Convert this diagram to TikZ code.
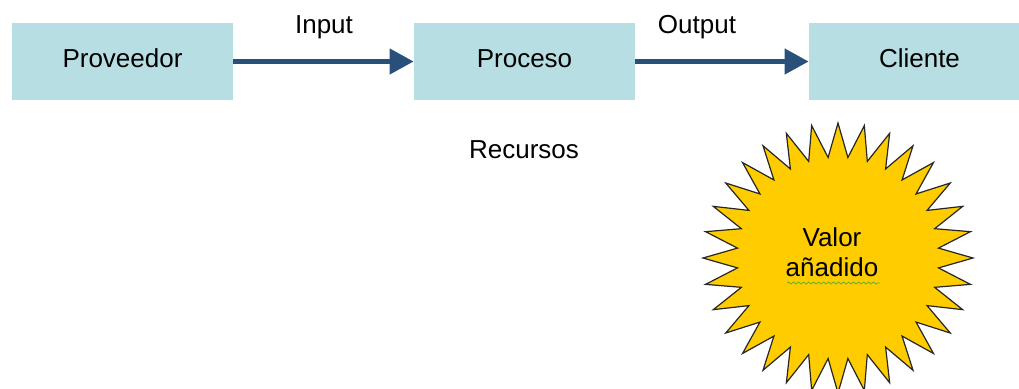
\documentclass[tikz,border=0pt]{standalone}
\usepackage{fontspec}
\setmainfont{Liberation Sans}
\usetikzlibrary{arrows.meta,decorations.pathmorphing}
\definecolor{boxfill}{RGB}{183,222,226}
\definecolor{flow}{RGB}{41,80,122}
\definecolor{sun}{RGB}{255,204,0}
\definecolor{spell}{RGB}{90,180,50}
\begin{document}
\begin{tikzpicture}[x=0.5pt,y=-0.5pt,
  stage/.style={fill=boxfill, minimum width=110.5pt, minimum height=38.5pt,
    inner sep=0pt, text height=9.5pt, text depth=4pt,
    font=\fontsize{13}{15}\selectfont},
  tag/.style={inner sep=0pt, anchor=base, font=\fontsize{13}{15}\selectfont},
  flowarrow/.style={draw=flow, line width=2.3pt, -{Triangle[length=12pt,width=12.5pt]}},
  sunburst/.style={draw=black!85, fill=sun, line width=0.6pt, line join=miter}
]
\clip (0,0) rectangle (1019,388);

% process chain
\node[stage] (prov) at (122.5,61.5) {Proveedor};
\node[stage] (proc) at (524.5,61.5) {Proceso};
\node[stage] (cli)  at (919.5,61.5) {Cliente};

\draw[flowarrow] (prov.east) -- (proc.west);
\draw[flowarrow] (proc.east) -- (cli.west);

\node[tag] (in)  at (324,33) {Input};
\node[tag] (out) at (697,33) {Output};
\node[tag] (rec) at (524,158.5) {Recursos};

% 32-point star
\begin{scope}[shift={(838,258)}]
  \draw[sunburst] (90:135)
    \foreach \i in {1,...,63} { -- ({90+\i*5.625}:{ifthenelse(mod(\i,2)==0,135,101)}) }
    -- cycle;
\end{scope}
\node[inner sep=0pt, align=center, font=\fontsize{13}{15}\selectfont] (valor) at (832,252.5) {Valor\\añadido};
\draw[spell, line width=0.4pt, decorate,
  decoration={snake, amplitude=0.5pt, segment length=2.5pt}]
  (787,283) -- (880,283);
\end{tikzpicture}
\end{document}
